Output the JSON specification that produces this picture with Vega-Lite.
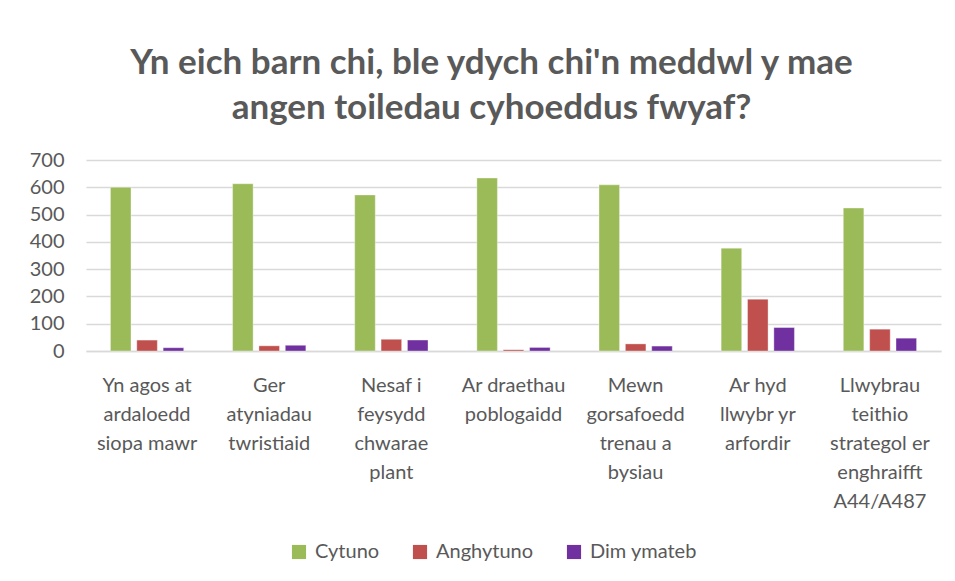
{
  "$schema": "https://vega.github.io/schema/vega-lite/v6.json",
  "width": 855,
  "height": 191,
  "autosize": {"type": "none"},
  "padding": {"left": 86, "top": 160, "right": 14, "bottom": 230},
  "background": "white",
  "title": {
    "text": ["Yn eich barn chi, ble ydych chi'n meddwl y mae", "angen toiledau cyhoeddus fwyaf?"],
    "font": "Lato",
    "fontSize": 35,
    "fontWeight": "bold",
    "color": "#595959",
    "lineHeight": 45,
    "anchor": "middle",
    "dx": -22,
    "offset": 24
  },
  "data": {
    "values": [
      {"lle": "Yn agos at ardaloedd siopa mawr", "ymateb": "Cytuno", "nifer": 600},
      {"lle": "Yn agos at ardaloedd siopa mawr", "ymateb": "Anghytuno", "nifer": 40},
      {"lle": "Yn agos at ardaloedd siopa mawr", "ymateb": "Dim ymateb", "nifer": 12},
      {"lle": "Ger atyniadau twristiaid", "ymateb": "Cytuno", "nifer": 613},
      {"lle": "Ger atyniadau twristiaid", "ymateb": "Anghytuno", "nifer": 19},
      {"lle": "Ger atyniadau twristiaid", "ymateb": "Dim ymateb", "nifer": 21},
      {"lle": "Nesaf i feysydd chwarae plant", "ymateb": "Cytuno", "nifer": 572},
      {"lle": "Nesaf i feysydd chwarae plant", "ymateb": "Anghytuno", "nifer": 43},
      {"lle": "Nesaf i feysydd chwarae plant", "ymateb": "Dim ymateb", "nifer": 40},
      {"lle": "Ar draethau poblogaidd", "ymateb": "Cytuno", "nifer": 634},
      {"lle": "Ar draethau poblogaidd", "ymateb": "Anghytuno", "nifer": 5},
      {"lle": "Ar draethau poblogaidd", "ymateb": "Dim ymateb", "nifer": 13},
      {"lle": "Mewn gorsafoedd trenau a bysiau", "ymateb": "Cytuno", "nifer": 609},
      {"lle": "Mewn gorsafoedd trenau a bysiau", "ymateb": "Anghytuno", "nifer": 26},
      {"lle": "Mewn gorsafoedd trenau a bysiau", "ymateb": "Dim ymateb", "nifer": 18},
      {"lle": "Ar hyd llwybr yr arfordir", "ymateb": "Cytuno", "nifer": 377},
      {"lle": "Ar hyd llwybr yr arfordir", "ymateb": "Anghytuno", "nifer": 190},
      {"lle": "Ar hyd llwybr yr arfordir", "ymateb": "Dim ymateb", "nifer": 86},
      {"lle": "Llwybrau teithio strategol er enghraifft A44/A487", "ymateb": "Cytuno", "nifer": 524},
      {"lle": "Llwybrau teithio strategol er enghraifft A44/A487", "ymateb": "Anghytuno", "nifer": 80},
      {"lle": "Llwybrau teithio strategol er enghraifft A44/A487", "ymateb": "Dim ymateb", "nifer": 47}
    ]
  },
  "mark": {"type": "bar", "stroke": "white", "strokeWidth": 0.6, "strokeOpacity": 0.6},
  "encoding": {
    "x": {
      "field": "lle",
      "type": "nominal",
      "sort": null,
      "title": null,
      "scale": {"paddingInner": 0.4, "paddingOuter": 0.2},
      "axis": {
        "labelAngle": 0,
        "labelFont": "Lato",
        "labelFontSize": 20,
        "labelColor": "#595959",
        "labelPadding": 24,
        "labelLineHeight": 29,
        "labelBaseline": "top",
        "labelLimit": 200,
        "ticks": false,
        "domain": true,
        "domainColor": "#d9d9d9",
        "domainWidth": 1.5,
        "labelExpr": "({'Yn agos at ardaloedd siopa mawr': ['Yn agos at', 'ardaloedd', 'siopa mawr'], 'Ger atyniadau twristiaid': ['Ger', 'atyniadau', 'twristiaid'], 'Nesaf i feysydd chwarae plant': ['Nesaf i', 'feysydd', 'chwarae', 'plant'], 'Ar draethau poblogaidd': ['Ar draethau', 'poblogaidd'], 'Mewn gorsafoedd trenau a bysiau': ['Mewn', 'gorsafoedd', 'trenau a', 'bysiau'], 'Ar hyd llwybr yr arfordir': ['Ar hyd', 'llwybr yr', 'arfordir'], 'Llwybrau teithio strategol er enghraifft A44/A487': ['Llwybrau', 'teithio', 'strategol er', 'enghraifft', 'A44/A487']})[datum.label]"
      }
    },
    "xOffset": {
      "field": "ymateb",
      "type": "nominal",
      "sort": ["Cytuno", "Anghytuno", "Dim ymateb"],
      "scale": {"paddingInner": 0.22, "paddingOuter": 0}
    },
    "y": {
      "field": "nifer",
      "type": "quantitative",
      "title": null,
      "scale": {"domain": [0, 700]},
      "axis": {
        "values": [0, 100, 200, 300, 400, 500, 600, 700],
        "labelFont": "Lato",
        "labelFontSize": 20,
        "labelColor": "#595959",
        "labelPadding": 22,
        "ticks": false,
        "domain": false,
        "gridColor": "#d9d9d9",
        "gridWidth": 1.5
      }
    },
    "color": {
      "field": "ymateb",
      "type": "nominal",
      "sort": ["Cytuno", "Anghytuno", "Dim ymateb"],
      "scale": {"domain": ["Cytuno", "Anghytuno", "Dim ymateb"], "range": ["#9BBB59", "#C0504D", "#7030A0"]},
      "legend": {
        "title": null,
        "orient": "none",
        "direction": "horizontal",
        "legendX": 203,
        "legendY": 382,
        "symbolType": "square",
        "symbolSize": 200,
        "symbolStrokeWidth": 0,
        "labelFont": "Lato",
        "labelFontSize": 20,
        "labelColor": "#595959",
        "labelOffset": 6,
        "columnPadding": 30
      }
    }
  },
  "config": {
    "view": {"stroke": null}
  }
}
